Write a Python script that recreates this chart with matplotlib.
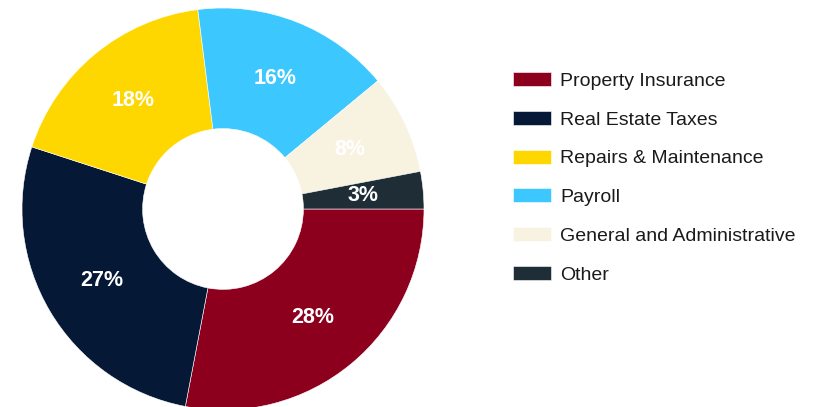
import matplotlib
matplotlib.use("Agg")
import matplotlib.pyplot as plt

# Expense breakdown (percent of total)
categories = [
    "Property Insurance",
    "Real Estate Taxes",
    "Repairs & Maintenance",
    "Payroll",
    "General and Administrative",
    "Other",
]
shares = [28, 27, 18, 16, 8, 3]
colors = ["#8C001E", "#051836", "#FFD700", "#3CC8FF", "#F8F2E0", "#1F2D36"]

plt.rcParams["font.family"] = ["Liberation Sans", "DejaVu Sans"]

W, H = 814, 407
fig = plt.figure(figsize=(W / 100, H / 100), dpi=100)
fig.patch.set_facecolor("white")

# donut centre (223, 209) px, outer radius 201 px
cx, cy, r = 223, 209, 201
ax = fig.add_axes([(cx - r) / W, (H - cy - r) / H, 2 * r / W, 2 * r / H])

wedges, texts, autotexts = ax.pie(
    shares,
    colors=colors,
    startangle=0,
    counterclock=False,
    radius=1.0,
    autopct=lambda p: f"{p:.0f}%",
    pctdistance=0.70,
    wedgeprops=dict(width=0.6, edgecolor="white", linewidth=0.4),
    textprops=dict(color="white", fontsize=15.5, fontweight="bold"),
)
ax.set_xlim(-1, 1)
ax.set_ylim(-1, 1)
ax.set_aspect("equal")
ax.axis("off")

fs = 14
fs_px = fs * 100 / 72
fig.legend(
    wedges,
    categories,
    loc="upper left",
    bbox_to_anchor=(513 / W, 1 - 72 / H),
    frameon=False,
    fontsize=fs,
    handlelength=38 / fs_px,
    handleheight=14 / fs_px,
    handletextpad=9 / fs_px,
    labelspacing=(39.1 - 18.0) / fs_px,
    borderpad=0,
    borderaxespad=0,
    labelcolor="#1a1a1a",
)

fig.savefig("out.png", dpi=100, facecolor="white")
